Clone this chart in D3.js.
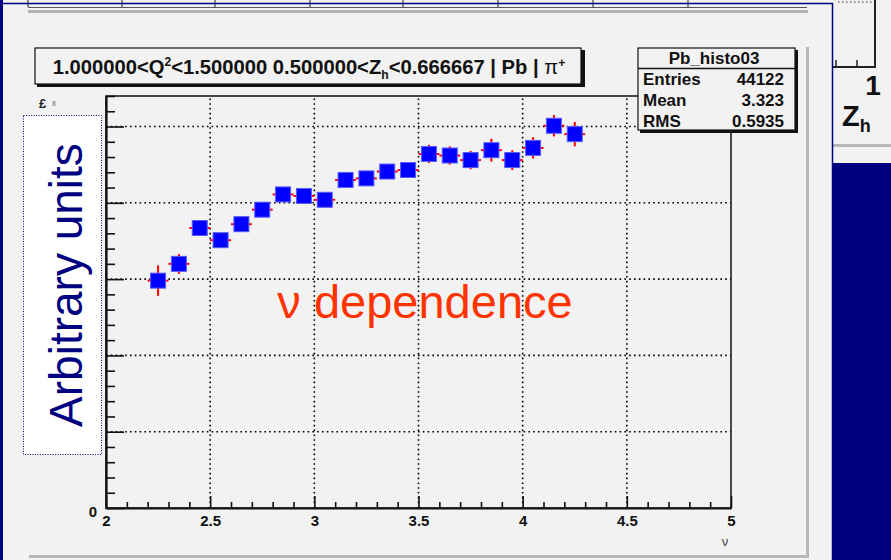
<!DOCTYPE html>
<html><head><meta charset="utf-8">
<script src="https://cdn.jsdelivr.net/npm/d3@7"></script>
<style>html,body{margin:0;padding:0;background:#f2f2f2;}svg{display:block;}</style>
</head><body>
<svg id="c" width="891" height="560"></svg>
<script>
// ---- data ----
const nu = [2.25,2.35,2.45,2.55,2.65,2.75,2.85,2.95,3.05,3.15,3.25,3.35,3.45,3.55,3.65,3.75,3.85,3.95,4.05,4.15,4.25];
const values = [2.98,3.20,3.67,3.51,3.72,3.91,4.11,4.09,4.04,4.30,4.32,4.41,4.43,4.64,4.62,4.56,4.69,4.56,4.72,5.01,4.90];
const errors = [0.20,0.13,0.09,0.09,0.08,0.09,0.08,0.08,0.08,0.09,0.08,0.09,0.10,0.12,0.12,0.12,0.15,0.13,0.14,0.14,0.16];
const binHalf = 0.05;
const xTickLabels = ["2","2.5","3","3.5","4","4.5","5"];
const xTickValues = [2,2.5,3,3.5,4,4.5,5];
const xMinorValues = [2.1,2.2,2.3,2.4,2.6,2.7,2.8,2.9,3.1,3.2,3.3,3.4,3.6,3.7,3.8,3.9,4.1,4.2,4.3,4.4,4.6,4.7,4.8,4.9];
const yMajorValues = [0,1,2,3,4,5];
const yMinorValues = [0.2,0.4,0.6,0.8,1.2,1.4,1.6,1.8,2.2,2.4,2.6,2.8,3.2,3.4,3.6,3.8,4.2,4.4,4.6,4.8,5.2,5.4];
const yGridValues = [1,2,3,4,5];
const statsRows = [["Entries","44122"],["Mean","3.323"],["RMS","0.5935"]];
const statsTitle = "Pb_histo03";
const topStripTicks = [28,122,215,310,403,498,593,688];

const svg = d3.select("#c");
const F = "'Liberation Sans', Arial, sans-serif";

// background
svg.append("rect").attr("width",891).attr("height",560).attr("fill","#f2f2f2");

// upper partial picture strip
topStripTicks.forEach(px=>{
  svg.append("line").attr("x1",px).attr("x2",px).attr("y1",0).attr("y2",7).attr("stroke","#222").attr("stroke-width",1);
});
svg.append("line").attr("x1",28).attr("x2",807).attr("y1",7.5).attr("y2",7.5).attr("stroke","#555").attr("stroke-width",1);
svg.append("rect").attr("x",28).attr("y",10).attr("width",780).attr("height",3).attr("fill","#b4b4b4");

// right side partial picture
svg.append("line").attr("x1",838).attr("x2",872).attr("y1",2).attr("y2",2).attr("stroke","#333").attr("stroke-dasharray","1.5,2.5");
svg.append("line").attr("x1",875).attr("x2",875).attr("y1",0).attr("y2",67).attr("stroke","#222").attr("stroke-width",2);
svg.append("line").attr("x1",832).attr("x2",876).attr("y1",67).attr("y2",67).attr("stroke","#222").attr("stroke-width",2);
[836,857].forEach(px=>svg.append("line").attr("x1",px).attr("x2",px).attr("y1",60).attr("y2",67).attr("stroke","#222").attr("stroke-width",1.5));
svg.append("text").attr("x",873).attr("y",95).attr("text-anchor","middle").attr("font-family",F).attr("font-weight","bold").attr("font-size",28).attr("fill","#111").text("1");
const zh = svg.append("text").attr("x",842).attr("y",126).attr("font-family",F).attr("font-weight","bold").attr("font-size",29).attr("fill","#111");
zh.append("tspan").text("Z");
zh.append("tspan").attr("font-size",18).attr("dy",6).text("h");
svg.append("rect").attr("x",833).attr("y",144).attr("width",58).attr("height",3).attr("fill","#b8b8b8");
svg.append("rect").attr("x",832).attr("y",163).attr("width",59).attr("height",397).attr("fill","#000080");

// slide frame (navy)
svg.append("rect").attr("x",0).attr("y",0).attr("width",3).attr("height",560).attr("fill","#000080");
svg.append("line").attr("x1",0).attr("x2",833).attr("y1",3.5).attr("y2",3.5).attr("stroke","#000080").attr("stroke-width",1.5);
svg.append("line").attr("x1",832.5).attr("x2",832.5).attr("y1",3).attr("y2",560).attr("stroke","#000080").attr("stroke-width",1.5);

// canvas shadows
svg.append("rect").attr("x",806).attr("y",47).attr("width",3).attr("height",511).attr("fill","#b8b8b8");
svg.append("rect").attr("x",29).attr("y",555).attr("width",780).attr("height",3).attr("fill","#b8b8b8");

// ---- plot ----
const x = d3.scaleLinear().domain([2,5]).range([106,731]);
const y = d3.scaleLinear().domain([0,5.4]).range([508,96]);

// gridlines
const grid = svg.append("g").attr("stroke","#000").attr("stroke-width",1.6).attr("stroke-dasharray","1.6,3.2");
xTickValues.slice(1,-1).forEach(v=>grid.append("line").attr("x1",x(v)).attr("x2",x(v)).attr("y1",y(0)).attr("y2",y(5.4)));
yGridValues.forEach(v=>grid.append("line").attr("x1",x(2)).attr("x2",x(5)).attr("y1",y(v)).attr("y2",y(v)));

// frame
svg.append("rect").attr("x",x(2)).attr("y",y(5.4)).attr("width",x(5)-x(2)).attr("height",y(0)-y(5.4)).attr("fill","none").attr("stroke","#111").attr("stroke-width",1.5);

function styleTicks(g){
  g.select(".domain").remove();
  g.selectAll(".tick line").attr("stroke","#111").attr("stroke-width",1.6);
  g.selectAll(".tick text").remove();
}
// x axis ticks (inside, upward)
svg.append("g").attr("transform",`translate(0,${y(0)})`)
  .call(d3.axisBottom(x).tickValues(xTickValues).tickSizeInner(-12).tickSizeOuter(0)).call(styleTicks);
svg.append("g").attr("transform",`translate(0,${y(0)})`)
  .call(d3.axisBottom(x).tickValues(xMinorValues).tickSizeInner(-6).tickSizeOuter(0)).call(styleTicks);
// y axis ticks (inside, rightward)
svg.append("g").attr("transform",`translate(${x(2)},0)`)
  .call(d3.axisLeft(y).tickValues(yMajorValues).tickSizeInner(-18).tickSizeOuter(0)).call(styleTicks);
svg.append("g").attr("transform",`translate(${x(2)},0)`)
  .call(d3.axisLeft(y).tickValues(yMinorValues).tickSizeInner(-9).tickSizeOuter(0)).call(styleTicks);

// x axis line + labels
const gx = svg.append("g").attr("transform",`translate(0,${y(0)})`)
  .call(d3.axisBottom(x).tickValues(xTickValues).tickSize(0).tickFormat((d,i)=>xTickLabels[i]));
gx.select(".domain").attr("stroke","#111").attr("stroke-width",2.2);
gx.selectAll("text").attr("font-family",F).attr("font-weight","bold").attr("font-size",15).attr("fill","#111").attr("dy",0).attr("y",18);

// y axis line + label
const gy = svg.append("g").attr("transform",`translate(${x(2)},0)`)
  .call(d3.axisLeft(y).tickValues([0]).tickSize(0).tickFormat(()=> "0"));
gy.select(".domain").attr("stroke","#111").attr("stroke-width",2.2);
gy.selectAll("text").attr("font-family",F).attr("font-weight","bold").attr("font-size",15).attr("fill","#111").attr("x",-9).attr("dy","0.55em");

// garbled exponent label
svg.append("text").attr("x",39).attr("y",108).attr("font-family",F).attr("font-weight","bold").attr("font-size",13).attr("fill","#222").text("£");
svg.append("text").attr("x",52).attr("y",106).attr("font-family",F).attr("font-size",8).attr("fill","#666").text("x̃");

// x axis title
svg.append("text").attr("x",725).attr("y",546).attr("text-anchor","middle").attr("font-family",F).attr("font-size",13).attr("fill","#444").text("ν");

// error bars + markers
const pts = nu.map((n,i)=>({n, v:values[i], e:errors[i]}));
const eb = svg.append("g").attr("stroke","#ff0000").attr("stroke-width",2);
pts.forEach(p=>{
  eb.append("line").attr("x1",x(p.n-binHalf)).attr("x2",x(p.n+binHalf)).attr("y1",y(p.v)).attr("y2",y(p.v));
  eb.append("line").attr("x1",x(p.n)).attr("x2",x(p.n)).attr("y1",y(p.v-p.e)).attr("y2",y(p.v+p.e));
});
svg.append("g").selectAll("rect").data(pts).join("rect")
  .attr("x",d=>x(d.n)-7.5).attr("y",d=>y(d.v)-7.5).attr("width",15).attr("height",15)
  .attr("fill","#0000ff").attr("stroke","#5a5aff").attr("stroke-width",1);

// "ν dependence"
svg.append("text").attr("x",425).attr("y",318).attr("text-anchor","middle").attr("font-family",F).attr("font-size",47).attr("fill","#ff3300").text("ν dependence");

// title box
svg.append("rect").attr("x",37).attr("y",50).attr("width",548).attr("height",37).attr("fill","#111");
svg.append("rect").attr("x",35).attr("y",48).attr("width",546).attr("height",36).attr("fill","#f2f2f2").attr("stroke","#111").attr("stroke-width",1.2);
const tt = svg.append("text").attr("x",309).attr("y",74).attr("text-anchor","middle").attr("font-family",F).attr("font-weight","bold").attr("font-size",20).attr("fill","#111");
tt.append("tspan").text("1.000000<Q");
tt.append("tspan").attr("font-size",12).attr("dy",-8).text("2");
tt.append("tspan").attr("dy",8).text("<1.500000 0.500000<Z");
tt.append("tspan").attr("font-size",12).attr("dy",5).text("h");
tt.append("tspan").attr("dy",-5).text("<0.666667 | Pb | ");
tt.append("tspan").attr("font-weight","normal").text("π");
tt.append("tspan").attr("font-size",12).attr("dy",-7).text("+");
{
  const w = tt.node().getComputedTextLength();
  const s = 513 / w;
  tt.attr("font-size", 20*s);
  tt.selectAll("tspan").each(function(){
    const fs = d3.select(this).attr("font-size");
    if (fs) d3.select(this).attr("font-size", (+fs)*s);
  });
}

// stats box
svg.append("rect").attr("x",640).attr("y",50).attr("width",158).attr("height",83).attr("fill","#111");
svg.append("rect").attr("x",638).attr("y",48).attr("width",157).attr("height",82).attr("fill","#f2f2f2").attr("stroke","#111").attr("stroke-width",1.2);
svg.append("line").attr("x1",638).attr("x2",795).attr("y1",68.5).attr("y2",68.5).attr("stroke","#111").attr("stroke-width",1.5);
svg.append("text").attr("x",714).attr("y",64).attr("text-anchor","middle").attr("font-family",F).attr("font-weight","bold").attr("font-size",17).attr("fill","#111").text(statsTitle);
statsRows.forEach((r,i)=>{
  const yy = 85 + i*21;
  svg.append("text").attr("x",643).attr("y",yy).attr("font-family",F).attr("font-weight","bold").attr("font-size",17).attr("fill","#111").text(r[0]);
  svg.append("text").attr("x",784).attr("y",yy).attr("text-anchor","end").attr("font-family",F).attr("font-weight","bold").attr("font-size",17).attr("fill","#111").text(r[1]);
});

// y label box
svg.append("rect").attr("x",23.5).attr("y",115.5).attr("width",78).attr("height",339).attr("fill","#ffffff").attr("stroke","#000080").attr("stroke-width",1).attr("stroke-dasharray","1,1.5");
svg.append("text").attr("transform","translate(82,285) rotate(-90)").attr("text-anchor","middle").attr("font-family",F).attr("font-size",46).attr("fill","#000080").text("Arbitrary units");
</script>
</body></html>
